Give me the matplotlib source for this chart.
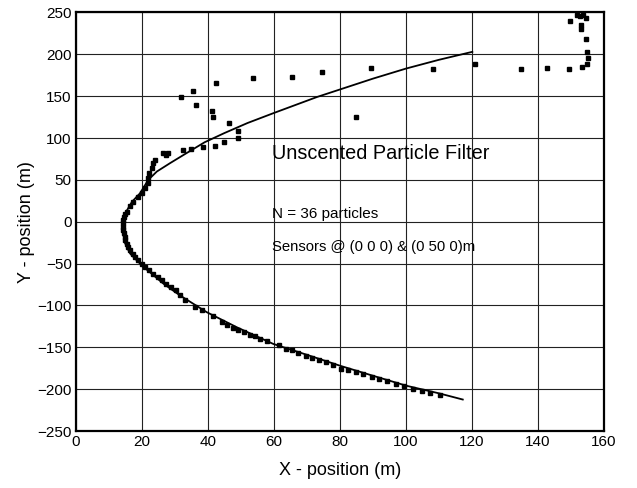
import matplotlib
matplotlib.use('Agg')
import matplotlib.pyplot as plt

plt.rcParams['font.family'] = ['Liberation Sans', 'DejaVu Sans']

# true trajectory (solid line)
true_x = [117.2, 110, 100.2, 90, 80, 70, 59.8, 48.7, 39.6, 31.5, 26.5, 19.9, 16.4,
          14.8, 14.3, 14.1, 14.3, 15.2, 17, 19.4, 21.9, 24.5, 28.5, 33.5, 39, 45,
          52, 60, 73, 90, 100, 110, 120.1]
true_y = [-212.4, -205, -196, -184, -172, -159, -146, -126, -108, -88, -74, -52, -38,
          -25, -14, -6, 0, 12, 24, 34, 50, 60, 70, 82, 95, 106, 118, 130, 149, 171,
          183, 193.5, 203]

# particle filter estimates (square markers)
est_x = [110.3, 107.3, 104.8, 102.2, 99.4, 97, 94.3, 91.9, 89.6, 87.1, 84.8, 82.5,
         80.3, 77.9, 75.8, 73.7, 71.4, 69.7, 67.4, 65.4, 63.6, 61.6, 57.8, 55.8,
         54.2, 52.7, 50.9, 49.2, 47.5, 45.7, 44.1, 41.6, 38.1, 36.1, 33, 31.6,
         30.2, 28.8, 27.4, 26, 24.7, 23.4, 22.2, 21, 19.9, 18.9, 18, 17.2, 16.5,
         15.9, 15.4, 15, 14.7, 14.5, 14.3, 14.2, 14.2, 14.3,
         14.5, 15, 15.4, 16.4, 17.4, 18.9, 19.9, 20.9, 21.9, 21.9, 22.2, 22.9,
         23.4, 23.9, 26.3, 27.3, 28, 32.5, 34.8, 38.4, 42.1, 44.9, 49.2, 49,
         46.4, 41.4, 41.1, 36.4, 31.8, 35.4, 42.3, 53.5, 65.5, 74.4, 84.8, 89.4,
         108.3, 120.9, 134.8, 142.8, 149.3, 153.2, 154.9, 155, 154.8, 154.5,
         152.9, 152.9, 149.7, 152.7, 154.5, 151.9, 153.7]
est_y = [-207.5, -204.3, -202.8, -199.5, -196.8, -194.4, -190.4, -187.6, -185.6,
         -182.4, -179.7, -176.8, -175.6, -170.8, -167.7, -165.7, -162.5, -160.9,
         -157, -153.7, -151.7, -147.7, -143, -139.7, -137, -135, -131.8, -129,
         -127, -123.8, -119.9, -113, -105.9, -101.9, -93.9, -87, -82, -78, -74,
         -70, -66, -62, -58, -54, -50, -46, -42, -38, -34, -30, -26, -22, -18,
         -14, -10, -6, -2, 2,
         6, 9, 12, 19, 24, 30, 34, 40, 46, 52, 58, 64, 70, 74, 82.3, 79.6, 82.3,
         85.5, 86.4, 89.5, 90.3, 94.7, 99.5, 108.6, 118.2, 124.6, 132.2, 139.4,
         149.3, 156.5, 166, 171.3, 173.2, 178.8, 125.4, 184, 182, 188, 182, 183.3,
         182, 185, 188, 195.2, 203.1, 218, 230, 235, 240.2, 245.8, 243.8, 247, 247]

xticks = [0, 20, 40, 60, 80, 100, 120, 140, 160]
yticks = [-250, -200, -150, -100, -50, 0, 50, 100, 150, 200, 250]

fig = plt.figure(figsize=(6.37, 4.88), dpi=100)
ax = fig.add_axes([0.1193, 0.1168, 0.8289, 0.8576])

ax.plot(true_x, true_y, color='black', lw=1.3)
ax.plot(est_x, est_y, 's', color='black', ms=2.8, mec='black')

ax.set_xlim(0, 160)
ax.set_ylim(-250, 250)
ax.set_xticks(xticks)
ax.set_yticks(yticks)
ax.grid(True, color='#222222', lw=0.8)
ax.tick_params(length=0, labelsize=11, pad=3)
for s in ax.spines.values():
    s.set_linewidth(1.6)

ax.text(59.5, 82, 'Unscented Particle Filter', fontsize=14.3, va='center')
ax.text(59.5, 9, 'N = 36 particles', fontsize=11, va='center')
ax.text(59.5, -30, 'Sensors @ (0 0 0) & (0 50 0)m', fontsize=10.7, va='center')

ax.set_xlabel('X - position (m)', fontsize=13, labelpad=9)
ax.set_ylabel('Y - position (m)', fontsize=13, labelpad=2)

fig.savefig('out.png', dpi=100)
